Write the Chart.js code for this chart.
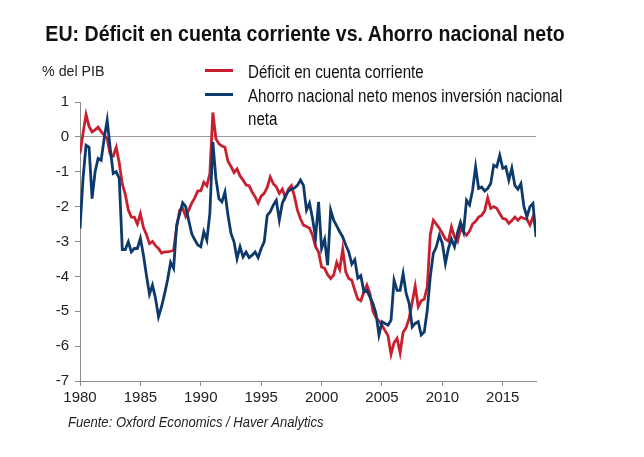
<!DOCTYPE html>
<html>
<head>
<meta charset="utf-8">
<script src="https://cdn.jsdelivr.net/npm/chart.js@4.4.1/dist/chart.umd.min.js"></script>
<style>
  body { margin: 0; background: #fff; }
  #wrap { position: relative; width: 644px; height: 457px; overflow: hidden; }
  #chart { position: absolute; left: 0; top: 0; }
  .narrow { font-family: "Liberation Sans Narrow", "Arial Narrow", "Liberation Sans", sans-serif; color: #111; position: absolute; white-space: nowrap; transform-origin: left top; }
  #title { left: 0; width: 610px; text-align: center; top: 21px; font-size: 22px; font-weight: bold; transform: scaleX(0.89); transform-origin: 305px 0; }
  #unit { left: 42px; top: 62px; font-size: 15px; color: #222; transform: scaleX(0.95); }
  .key { position: absolute; left: 205px; width: 28px; height: 3px; }
  .ktext { left: 248px; font-size: 18px; line-height: 23px; color: #111; transform: scaleX(0.84); }
  #source { left: 68px; top: 413px; font-size: 15px; font-style: italic; color: #222; transform: scaleX(0.87); }
</style>
</head>
<body>
<div id="wrap">
  <canvas id="chart" width="644" height="457"></canvas>
  <div id="title" class="narrow">EU: Déficit en cuenta corriente vs. Ahorro nacional neto</div>
  <div id="unit" class="narrow">% del PIB</div>
  <div class="key" style="top:69px;background:#c8202f"></div>
  <div class="narrow ktext" style="top:61px">Déficit en cuenta corriente</div>
  <div class="key" style="top:93px;background:#0e3a6b"></div>
  <div class="narrow ktext" style="top:85px">Ahorro nacional neto menos inversión nacional<br>neta</div>
  <div id="source" class="narrow">Fuente: Oxford Economics / Haver Analytics</div>
</div>
<script>
// quarterly data, 1980Q1 .. 2017Q4
const startYear = 1980;
const xTicks = [1980, 1985, 1990, 1995, 2000, 2005, 2010, 2015];
const yTicks = [1, 0, -1, -2, -3, -4, -5, -6, -7];

const deficit = [
  -0.48, 0.1, 0.64, 0.3,
  0.14, 0.2, 0.28, 0.15,
  0.05, -0.05, -0.5, -0.55,
  -0.3, -0.75, -1.35, -1.65,
  -2.1, -2.3, -2.3, -2.5,
  -2.2, -2.6, -2.8, -3.06,
  -3.0, -3.12, -3.2, -3.33,
  -3.3, -3.3, -3.28, -3.25,
  -2.6, -2.1, -2.05, -2.28,
  -2.1, -1.9, -1.75, -1.55,
  -1.55, -1.3, -1.4, -1.05,
  0.7, -0.05, -0.2, -0.26,
  -0.3, -0.7, -0.85, -1.02,
  -0.92, -1.12, -1.24, -1.38,
  -1.4, -1.58, -1.72, -1.9,
  -1.7, -1.62, -1.45, -1.15,
  -1.34, -1.43, -1.62, -1.5,
  -1.73, -1.5, -1.4, -1.7,
  -2.1, -2.35, -2.53, -2.57,
  -2.62, -2.82, -3.15, -3.3,
  -3.73, -3.77, -3.95, -4.06,
  -3.96, -3.6, -3.8, -3.22,
  -3.87, -4.06, -4.11, -4.4,
  -4.65, -4.7, -4.45, -4.25,
  -4.49, -5.0, -5.18, -5.28,
  -5.4, -5.55, -5.7, -6.23,
  -5.9, -5.78, -6.19, -5.6,
  -5.47, -5.2, -4.75, -4.28,
  -4.87, -4.7, -4.65, -4.3,
  -2.8, -2.39, -2.5, -2.62,
  -2.77, -2.93, -2.99, -2.58,
  -2.87, -3.0, -2.65, -2.72,
  -2.82, -2.7, -2.5, -2.42,
  -2.3, -2.25, -2.12, -1.75,
  -2.05, -2.0, -2.05, -2.2,
  -2.34, -2.36, -2.48, -2.4,
  -2.3, -2.39, -2.3, -2.34,
  -2.36, -2.53, -2.29, -2.58
];

const ahorro = [
  -2.63, -1.2, -0.24, -0.3,
  -1.77, -1.0, -0.62, -0.67,
  -0.05, 0.48, -0.33, -1.05,
  -1.0, -1.19, -3.23, -3.23,
  -3.01, -3.3, -3.2, -3.2,
  -2.91, -3.39, -3.97, -4.51,
  -4.25, -4.63, -5.16, -4.87,
  -4.5, -4.1, -3.6, -3.77,
  -2.53, -2.2, -1.89, -2.0,
  -2.4, -2.78, -2.95, -3.1,
  -3.15, -2.72, -2.96, -2.2,
  -0.15, -1.19, -1.77, -1.86,
  -1.58, -2.25, -2.77, -3.01,
  -3.49, -3.15, -3.44, -3.3,
  -3.46, -3.39, -3.3, -3.46,
  -3.2, -3.01, -2.25, -2.15,
  -1.96, -1.82, -2.39, -1.9,
  -1.7, -1.55, -1.5, -1.47,
  -1.39, -1.24, -1.39, -2.1,
  -1.9, -2.34, -2.9, -1.86,
  -3.2, -2.94, -3.68, -2.1,
  -2.39, -2.55, -2.72, -2.87,
  -3.1, -3.3, -3.65, -3.52,
  -4.05, -3.98, -4.44, -4.4,
  -4.59, -4.78, -5.06, -5.68,
  -5.3, -5.35, -5.4, -5.25,
  -4.11, -4.4, -4.4, -3.92,
  -4.49, -4.78, -5.45, -5.35,
  -5.3, -5.68, -5.59, -4.97,
  -4.0, -3.34, -3.15, -2.82,
  -3.06, -3.63, -3.2, -2.93,
  -3.15, -2.75, -2.45, -2.72,
  -1.82, -1.95, -1.53, -0.86,
  -1.48, -1.44, -1.55, -1.48,
  -1.34, -0.81, -0.86, -0.53,
  -0.9, -0.86, -1.24, -0.9,
  -1.39, -1.5, -1.34, -2.0,
  -2.29, -2.0, -1.91, -2.87
];

function toPoints(values) {
    return values.map((v, i) => ({ x: startYear + i / 4, y: v }));
}

const axisColor = '#8c8c8c';
const tickFont = { family: 'Liberation Sans, Arial, sans-serif', size: 15 };

new Chart(document.getElementById('chart'), {
    type: 'line',
    data: {
        datasets: [
            {
                label: 'Déficit en cuenta corriente',
                data: toPoints(deficit),
                borderColor: '#c8202f',
                borderWidth: 2.8,
                pointRadius: 0,
                tension: 0,
                order: 2
            },
            {
                label: 'Ahorro nacional neto menos inversión nacional neta',
                data: toPoints(ahorro),
                borderColor: '#0e3a6b',
                borderWidth: 2.8,
                pointRadius: 0,
                tension: 0,
                order: 1
            }
        ]
    },
    options: {
        responsive: false,
        animation: false,
        layout: { padding: { top: 102, right: 108, left: 0, bottom: 0 } },
        plugins: { legend: { display: false }, tooltip: { enabled: false } },
        scales: {
            x: {
                type: 'linear',
                min: 1980,
                max: 2017.75,
                afterFit: scale => { scale.height = 76; },
                afterBuildTicks: scale => { scale.ticks = xTicks.map(v => ({ value: v })); },
                ticks: { color: '#222', font: tickFont, padding: 3, maxRotation: 0, callback: v => String(v) },
                grid: { drawOnChartArea: false, tickLength: 5, tickColor: axisColor },
                border: { color: axisColor, width: 1 }
            },
            y: {
                min: -7,
                max: 1,
                afterFit: scale => { scale.width = 80; },
                afterBuildTicks: scale => { scale.ticks = yTicks.map(v => ({ value: v })); },
                ticks: { color: '#222', font: tickFont, padding: 6 },
                grid: {
                    color: ctx => (ctx.tick && ctx.tick.value === 0 ? '#9a9a9a' : 'rgba(0,0,0,0)'),
                    tickColor: axisColor,
                    tickLength: 5
                },
                border: { color: axisColor, width: 1 }
            }
        }
    }
});
</script>
</body>
</html>
